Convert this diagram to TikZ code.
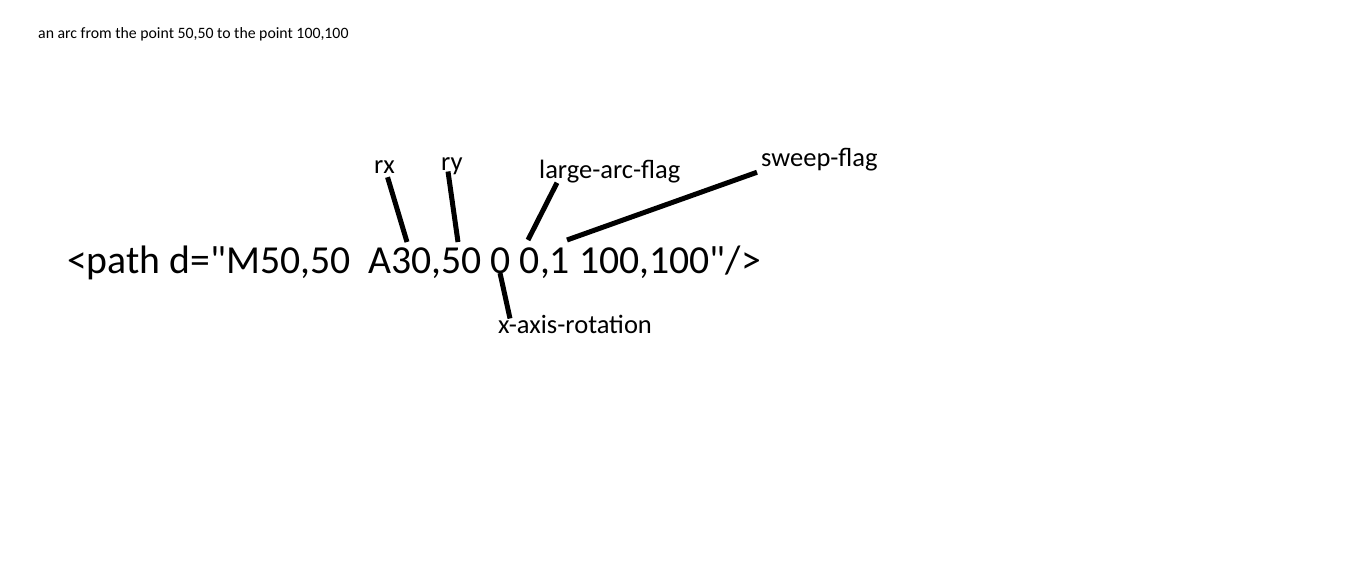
\documentclass[tikz,border=0pt]{standalone}
\usepackage{fontspec}
\setmainfont{Carlito}
\newfontfamily\pathfont{Carlito}
\usepackage{tikz}
\usetikzlibrary{positioning,calc}

\begin{document}
\begin{tikzpicture}[
    x=1pt, y=-1pt,
    lbl/.style={inner sep=0pt, anchor=base west, font=\fontsize{26.5}{30}\selectfont},
    pointer/.style={line width=5pt, black}
]
    \useasboundingbox (0,0) rectangle (1360,565);

    % Caption and path string
    \node[inner sep=0pt, anchor=base west, font=\fontsize{15.8}{18}\selectfont] (caption) at (38,38) {an arc from the point 50,50 to the point 100,100};
    \node[inner sep=0pt, anchor=base west, font=\pathfont\fontsize{39.7}{46}\selectfont] (path) at (67,273) {<path d="M50,50\ \ A30,50 0 0,1 100,100"/>};

    % Parameter labels
    \node[lbl] (rx) at (374,173) {rx};
    \node[lbl] (ry) at (441,170) {ry};
    \node[lbl] (largearc) at (539,178) {large-arc-flag};
    \node[lbl] (sweep) at (761,166) {sweep-flag};
    \node[lbl] (xrot) at (498,333) {x-axis-rotation};

    % Points in the path string
    \coordinate (rxval) at (407,242);
    \coordinate (ryval) at (458,242);
    \coordinate (largeval) at (528,240);
    \coordinate (sweepval) at (567,240);
    \coordinate (xrotval) at (500,273);

    % Pointers
    \draw[pointer] ([xshift=3pt,yshift=-4pt]rx.south) -- (rxval);
    \draw[pointer] ([xshift=7pt,yshift=3pt]ry.south west) -- (ryval);
    \draw[pointer] ([xshift=18pt]largearc.south west) -- (largeval);
    \draw[pointer] ([xshift=-4pt,yshift=-1.5pt]sweep.south west) -- (sweepval);
    \draw[pointer] ([xshift=12pt,yshift=-4pt]xrot.north west) -- (xrotval);
\end{tikzpicture}
\end{document}
